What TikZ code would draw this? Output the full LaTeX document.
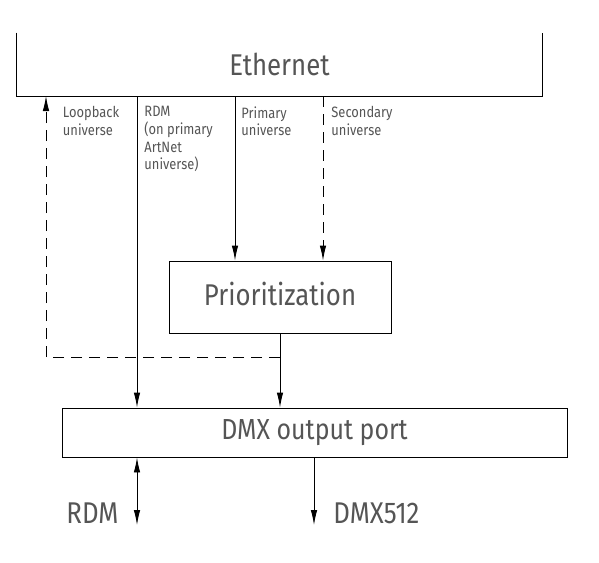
\documentclass[tikz,border=0pt]{standalone}
\usepackage{fontspec}
\setmainfont[FakeStretch=0.86]{Fira Sans}
\usetikzlibrary{arrows.meta}
\definecolor{txtgray}{RGB}{85,85,85}

\tikzset{
  block/.style={text=txtgray, inner sep=0pt, font=\fontsize{30}{30}\selectfont},
  lbl/.style={anchor=north west, align=left, text=txtgray, inner sep=0pt,
    font=\fontsize{15}{17.7}\selectfont},
  loop/.style={dash pattern=on 11pt off 7pt}
}

\begin{document}
\begin{tikzpicture}[x=1pt, y=-1pt, line width=0.9pt,
    >={Latex[length=15pt,width=6.5pt]}]
    \useasboundingbox (0,0) rectangle (599,562);

    \node[block, minimum width=525pt, minimum height=63pt] (eth) at (279.5,64.5) {Ethernet};
    \draw (eth.north west) -- (eth.south west) -- (eth.south east) -- (eth.north east);
    \node[block, draw, minimum width=222pt, minimum height=72pt, text depth=6pt] (prio) at (280,297) {Prioritization};
    \node[block, draw, minimum width=505pt, minimum height=49pt,
      font=\fontsize{29}{29}\selectfont] (dmx) at (314.5,432.5) {DMX output port};

    \coordinate (loop) at (46,96);
    \coordinate (rdm) at (137,96);
    \coordinate (prim) at (235,96);
    \coordinate (sec) at (323,96);
    \coordinate (back) at (46,357);
    \coordinate (rdmend) at (137,525);
    \coordinate (dmxend) at (314,525);

    \draw[->] (rdm) -- (rdm |- dmx.north);
    \draw[->] (prim) -- (prim |- prio.north);
    \draw[->, loop] (sec) -- (sec |- prio.north);
    \draw[->] (prio.south) -- (prio.south |- dmx.north);
    \draw[->, loop] (prio.south |- back) -- (back) -- (loop);
    \draw[<->] (dmx.south -| rdmend) -- (rdmend);
    \draw[->] (dmx.south -| dmxend) -- (dmxend);

    \node[lbl] (loopl) at (62.5,106) {Loopback\\universe};
    \node[lbl] (rdml) at (144,106) {RDM\\(on primary\\ArtNet\\universe)};
    \node[lbl] (priml) at (241,106) {Primary\\universe};
    \node[lbl] (secl) at (331,106) {Secondary\\universe};
    \node[block, anchor=east] (rdmt) at (119,513) {RDM};
    \node[block, anchor=west] (dmxt) at (333,513) {DMX512};
  \end{tikzpicture}
\end{document}
